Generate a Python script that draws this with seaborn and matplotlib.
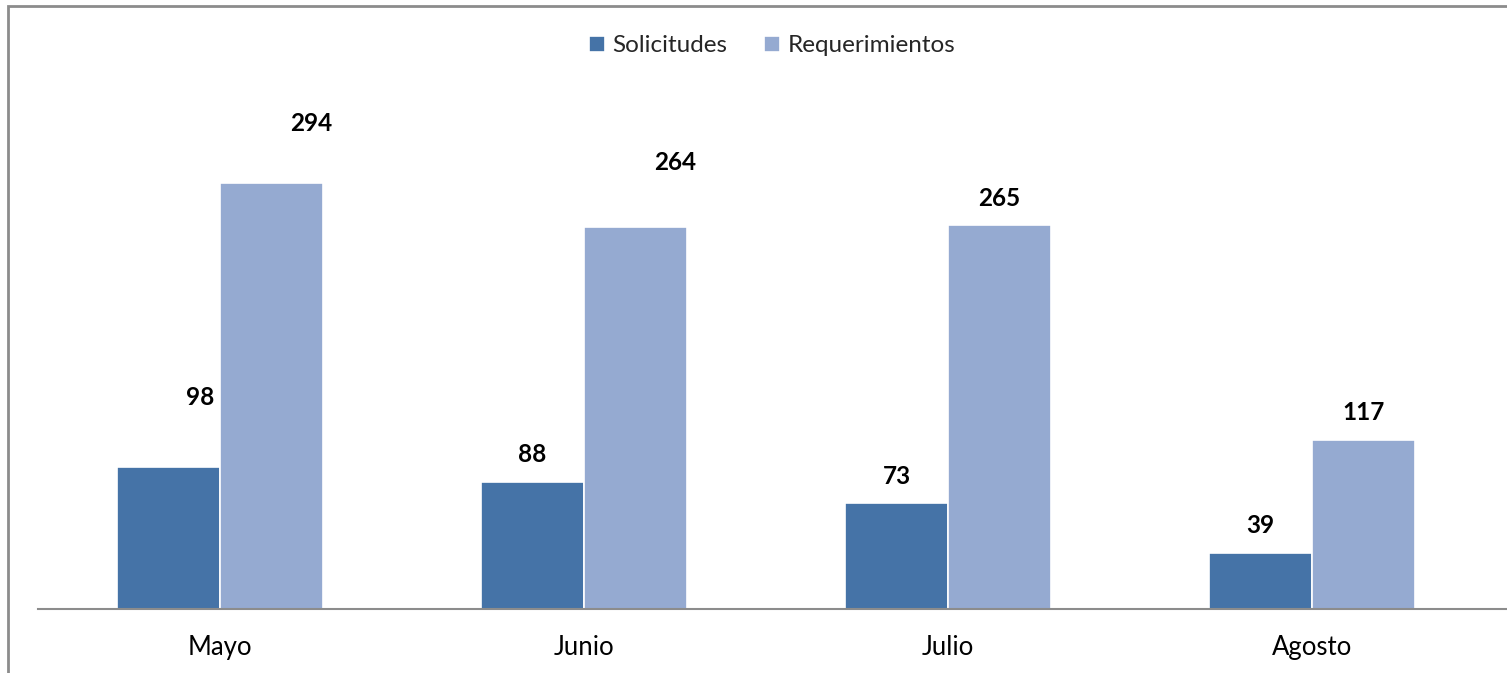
import pandas as pd
import matplotlib.pyplot as plt
import seaborn as sns
from matplotlib.patches import Rectangle

# Data
meses = ["Mayo", "Junio", "Julio", "Agosto"]
solicitudes = [98, 88, 73, 39]
requerimientos = [294, 264, 265, 117]
series = ["Solicitudes", "Requerimientos"]
colores = ["#4573A7", "#95AAD1"]

W, H = 1507, 673

df = pd.DataFrame({
    "Mes": meses * 2,
    "Valor": solicitudes + requerimientos,
    "Serie": [series[0]] * len(meses) + [series[1]] * len(meses),
})

sns.set_theme(style="white")
plt.rcParams['font.family'] = ['Lato', 'DejaVu Sans']

fig = plt.figure(figsize=(W / 100, H / 100), dpi=100)
ax = fig.add_axes([38 / W, 64 / H, (W - 38) / W, 507 / H])

sns.barplot(data=df, x="Mes", y="Valor", hue="Serie", palette=colores,
            width=0.566, gap=0, edgecolor="white", linewidth=1.2,
            saturation=1, ax=ax, legend=True)

ax.set_xlim(-0.5, 3.5 + 13 / 364)
ax.set_ylim(0, 350)
ax.set_xlabel("")
ax.set_ylabel("")
ax.set_yticks([])
for s in ["top", "right", "left"]:
    ax.spines[s].set_visible(False)
ax.spines["bottom"].set_color("#8c8c8c")
ax.spines["bottom"].set_linewidth(1.5)
ax.tick_params(axis="x", length=0, pad=19, labelsize=18.5, colors="black")

# label offsets in pixels (dx, dy above bar top); a few were moved by hand in the original
nudges = {(0, 0): (32, 70), (1, 0): (40, 60), (1, 1): (40, 64)}
for si, cont in enumerate(ax.containers):
    for ci, bar in enumerate(cont):
        dx, dy = nudges.get((si, ci), (0, 27))
        x = bar.get_x() + bar.get_width() / 2
        y = bar.get_height()
        ax.annotate(f"{int(y)}", (x, y), xytext=(dx, dy), textcoords="offset pixels",
                    ha="center", va="center", fontsize=17.5, fontweight="bold",
                    color="black", annotation_clip=False)

handles, labels = ax.get_legend_handles_labels()
ax.get_legend().remove()
fig.legend(handles, labels, loc="center", bbox_to_anchor=(772 / W, 1 - 46 / H),
           ncol=2, frameon=False, fontsize=17.5, handlelength=0.68, handleheight=0.68,
           handletextpad=0.3, columnspacing=1.5)

# chart border
fig.add_artist(Rectangle((8 / W, -0.1), 1.2, (H - 6) / H + 0.1, transform=fig.transFigure,
                         fill=False, edgecolor="#8c8c8c", linewidth=2))

fig.savefig("out.png", dpi=100)
